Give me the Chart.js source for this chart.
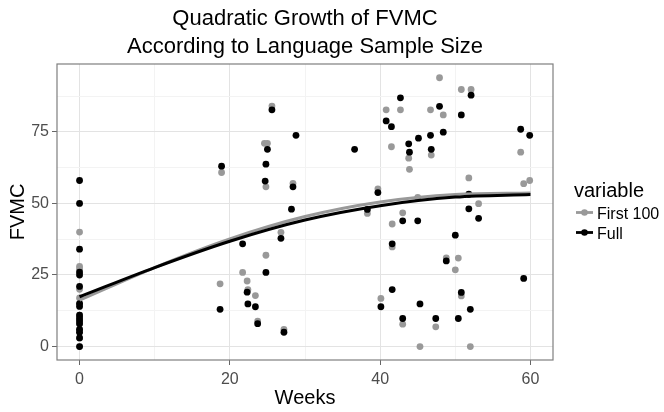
<!DOCTYPE html>
<html>
<head>
<meta charset="utf-8">
<script src="https://cdn.jsdelivr.net/npm/chart.js@4.4.0/dist/chart.umd.min.js"></script>
<style>
  html, body { margin: 0; padding: 0; background: #fff; }
</style>
</head>
<body>
<canvas id="grafico" width="664" height="412"></canvas>
<script>
// dados
const semanasFull = [0, 0, 0, 0, 0, 0, 0, 0, 0, 0, 0, 0, 0, 0, 0, 0,
  18.9, 18.7, 25.6, 25, 24.8, 24.7, 28.8, 28.4, 28.2, 36.6, 39.7,
  42.7, 40.8, 41.5, 43.8, 43.9, 45.1, 21.7, 22.3, 22.4, 23.4, 23.7, 24.8, 26.8, 27.2,
  38.3, 43, 45, 41.6, 40.1, 41.6, 45.3, 43,
  52.1, 47.9, 50.8, 48.4, 46.7, 46.8, 58.7, 59.9,
  51.8, 53.1, 50, 48.8, 59.1, 50.8, 52, 47.4, 50.4, 51.8];
const fvmcFull = [58, 50, 34, 26, 25, 21, 15, 14, 11, 10, 9, 8, 6, 5, 3, 0,
  63, 13, 82.7, 68.9, 63.7, 57.8, 73.8, 55.8, 48, 68.9, 53.8,
  86.9, 78.8, 76.8, 70.8, 67.9, 72.8, 35.9, 19, 14.9, 13.9, 8, 25.9, 37.8, 5,
  47.9, 43.9, 43.9, 35.9, 13.9, 19.9, 14.9, 9.8,
  87.8, 83.9, 80.9, 74.9, 73.8, 68.9, 75.9, 73.8,
  48.1, 44.8, 38.9, 29.9, 23.8, 18.9, 13, 9.8, 9.8, 53.2];

const semanasFirst = [0, 0, 0, 0, 0, 0, 0, 0, 0, 0, 0, 0, 0, 0,
  18.9, 18.7, 25.6, 24.6, 25, 24.8, 28.4,
  39.7, 42.7, 40.8, 41.5, 43.8, 43.9,
  21.7, 22.3, 22.4, 23.4, 23.7, 24.8, 26.8, 27.2,
  38.3, 43, 41.6, 41.6, 40.1, 43, 45.3,
  47.9, 50.8, 52.1, 46.7, 48.4, 46.8, 58.7, 51.8, 59.1, 59.9, 53.1, 45,
  48.8, 50.4, 50, 50.8, 47.4, 52];
const fvmcFirst = [40, 28, 27, 20, 17, 15, 11, 10, 9, 8, 6, 5, 3, 0,
  60.8, 21.9, 84, 71, 71, 55.8, 57,
  55.1, 82.7, 82.7, 69.8, 65.8, 61.9,
  25.9, 22.9, 19.9, 17.8, 8.9, 31.9, 39.9, 6,
  46.5, 46.7, 42.8, 34.8, 16.8, 7.8, 0,
  93.9, 89.8, 89.8, 82.7, 80.9, 66.9, 67.9, 58.9, 56.9, 58, 49.9, 52.1,
  31, 30.9, 26.8, 17.7, 6.9, 0];

// curvas quadráticas ajustadas
const semanasAjuste = [0, 10, 20, 30, 40, 50, 60];
const ajusteFull = [17.4, 27.6, 36.8, 44.2, 49.2, 52.2, 53.1];
const ajusteFirst = [16.2, 27.6, 37.6, 45.4, 50.5, 53.1, 53.6];

const ticksX = [0, 10, 20, 30, 40, 50, 60];
const ticksY = [0, 12.5, 25, 37.5, 50, 62.5, 75, 87.5];
const rotulosSerie = ['First 100', 'Full'];

const CINZA = '#999999';
const PRETO = '#000000';
const FONTE = '"Liberation Sans", Arial, sans-serif';

function pares(xs, ys) {
  return xs.map((x, i) => ({ x: x, y: ys[i] }));
}

// título, borda do painel e legenda no estilo ggplot
const estiloGG = {
  id: 'estiloGG',
  afterDraw(chart) {
    const c = chart.ctx;
    const a = chart.chartArea;
    c.save();
    c.strokeStyle = '#7f7f7f';
    c.lineWidth = 1.2;
    c.strokeRect(a.left, a.top, a.right - a.left, a.bottom - a.top);

    const meio = (a.left + a.right) / 2;
    c.fillStyle = '#000';
    c.textAlign = 'center';
    c.textBaseline = 'alphabetic';
    c.font = '22px ' + FONTE;
    c.fillText('Quadratic Growth of FVMC', meio, 25);
    c.fillText('According to Language Sample Size', meio, 53);

    c.textAlign = 'left';
    c.font = '20px ' + FONTE;
    c.fillText('variable', 574, 197);

    const cores = [CINZA, PRETO];
    c.font = '16px ' + FONTE;
    rotulosSerie.forEach((r, i) => {
      const y = 212.5 + i * 20;
      c.strokeStyle = cores[i];
      c.lineWidth = 2.8;
      c.beginPath();
      c.moveTo(576, y);
      c.lineTo(593, y);
      c.stroke();
      c.fillStyle = cores[i];
      c.beginPath();
      c.arc(584.5, y, 3.3, 0, Math.PI * 2);
      c.fill();
      c.fillStyle = '#000';
      c.fillText(r, 597, y + 6);
    });
    c.restore();
  }
};

const ctx = document.getElementById('grafico').getContext('2d');

new Chart(ctx, {
  type: 'scatter',
  data: {
    datasets: [
      {
        label: 'Full ajuste',
        data: pares(semanasAjuste, ajusteFull),
        showLine: true,
        borderColor: PRETO,
        borderWidth: 3,
        pointRadius: 0,
        cubicInterpolationMode: 'monotone',
        order: 0
      },
      {
        label: 'First 100 ajuste',
        data: pares(semanasAjuste, ajusteFirst),
        showLine: true,
        borderColor: CINZA,
        borderWidth: 3,
        pointRadius: 0,
        cubicInterpolationMode: 'monotone',
        order: 1
      },
      {
        label: 'Full',
        data: pares(semanasFull, fvmcFull),
        backgroundColor: PRETO,
        borderWidth: 0,
        pointRadius: 3.4,
        order: 2
      },
      {
        label: 'First 100',
        data: pares(semanasFirst, fvmcFirst),
        backgroundColor: CINZA,
        borderWidth: 0,
        pointRadius: 3.4,
        order: 3
      }
    ]
  },
  options: {
    responsive: false,
    animation: false,
    devicePixelRatio: 1,
    layout: { padding: { top: 64, right: 111, left: 0, bottom: 0 } },
    plugins: {
      legend: { display: false },
      title: { display: false },
      tooltip: { enabled: false }
    },
    scales: {
      x: {
        type: 'linear',
        min: -3,
        max: 63,
        afterBuildTicks: (s) => { s.ticks = ticksX.map(v => ({ value: v })); },
        afterFit: (s) => { s.height = 52; },
        border: { display: false },
        grid: {
          color: (c) => (c.tick && c.tick.value % 20 === 0) ? '#e3e3e3' : '#f3f3f3',
          lineWidth: 1,
          tickLength: 5,
          tickColor: (c) => (c.tick && c.tick.value % 20 === 0) ? '#666' : 'rgba(0,0,0,0)'
        },
        ticks: {
          autoSkip: false,
          maxRotation: 0,
          padding: 5,
          color: '#4d4d4d',
          font: { family: FONTE, size: 16 },
          callback: (v) => v % 20 === 0 ? String(v) : ''
        },
        title: {
          display: true,
          text: 'Weeks',
          color: '#000',
          font: { family: FONTE, size: 20 },
          padding: { top: 0, bottom: 2 }
        }
      },
      y: {
        type: 'linear',
        min: -4.7,
        max: 98.7,
        afterBuildTicks: (s) => { s.ticks = ticksY.map(v => ({ value: v })); },
        afterFit: (s) => { s.width = 57; },
        border: { display: false },
        grid: {
          color: (c) => (c.tick && c.tick.value % 25 === 0) ? '#e3e3e3' : '#f3f3f3',
          lineWidth: 1,
          tickLength: 5,
          tickColor: (c) => (c.tick && c.tick.value % 25 === 0) ? '#666' : 'rgba(0,0,0,0)'
        },
        ticks: {
          autoSkip: false,
          padding: 3,
          color: '#4d4d4d',
          font: { family: FONTE, size: 16 },
          callback: (v) => v % 25 === 0 ? String(v) : ''
        },
        title: {
          display: true,
          text: 'FVMC',
          color: '#000',
          font: { family: FONTE, size: 20 },
          padding: { top: 6, bottom: 0 }
        }
      }
    }
  },
  plugins: [estiloGG]
});
</script>
</body>
</html>
